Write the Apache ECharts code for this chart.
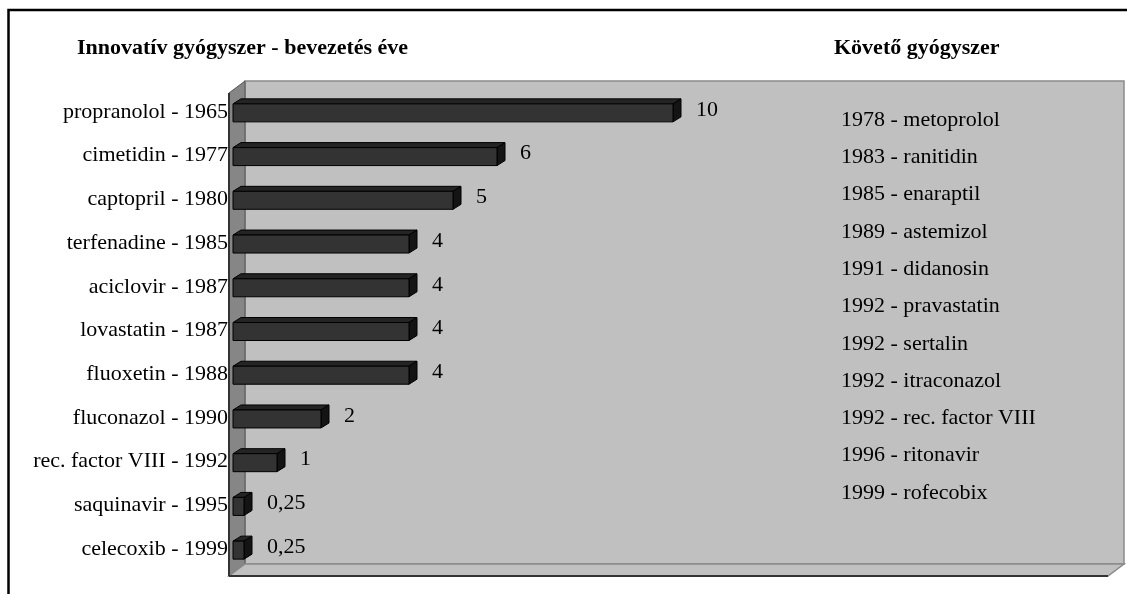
<!DOCTYPE html>
<html>
<head>
<meta charset="utf-8">
<script src="https://cdn.jsdelivr.net/npm/echarts@6/dist/echarts.min.js"></script>
<style>
  html, body { margin: 0; padding: 0; background: #fff; }
  #chart { width: 1127px; height: 594px; }
</style>
</head>
<body>
<div id="chart"></div>
<script>
// innovatív gyógyszerek (kategóriák) és az értékek
var drugs = [
  'propranolol - 1965', 'cimetidin - 1977', 'captopril - 1980', 'terfenadine - 1985',
  'aciclovir - 1987', 'lovastatin - 1987', 'fluoxetin - 1988', 'fluconazol - 1990',
  'rec. factor VIII - 1992', 'saquinavir - 1995', 'celecoxib - 1999'
];
var years = [10, 6, 5, 4, 4, 4, 4, 2, 1, 0.25, 0.25];
// követő gyógyszerek (jobb oldali szövegdoboz)
var followers = [
  '1978 - metoprolol', '1983 - ranitidin', '1985 - enaraptil', '1989 - astemizol',
  '1991 - didanosin', '1992 - pravastatin', '1992 - sertalin', '1992 - itraconazol',
  '1992 - rec. factor VIII', '1996 - ritonavir', '1999 - rofecobix'
];
var leftTitle = 'Innovatív gyógyszer - bevezetés éve';
var rightTitle = 'Követő gyógyszer';

var FONT = '"Liberation Serif", "Times New Roman", serif';
var gLeft = 233, gTop = 90, gWidth = 880, gHeight = 481;
var depthX = 16, depthY = -12; // fal mélysége

var chart = echarts.init(document.getElementById('chart'));

// fal / padló (háttér)
var fx0 = gLeft - 4, fx1 = gLeft + gWidth - 5, fy0 = gTop + 3, fy1 = gTop + gHeight + 5;
var bx0 = fx0 + depthX, bx1 = fx1 + depthX, by0 = fy0 + depthY, by1 = fy1 + depthY;

var graphics = [
  { type: 'rect', z: 0, shape: { x: 8.5, y: 10, width: 1300, height: 800 },
    style: { fill: 'none', stroke: '#000', lineWidth: 2.5 } },
  { type: 'polygon', z: 0, shape: { points: [[bx0, by0], [bx1, by0], [bx1, by1], [bx0, by1]] },
    style: { fill: '#c0c0c0', stroke: '#8a8a8a', lineWidth: 1.5 } },
  { type: 'polygon', z: 0, shape: { points: [[fx0, fy0], [bx0, by0], [bx0, by1], [fx0, fy1]] },
    style: { fill: '#868686', stroke: '#555', lineWidth: 1 } },
  { type: 'polygon', z: 0, shape: { points: [[fx0, fy1], [bx0, by1], [bx1, by1], [fx1, fy1]] },
    style: { fill: '#c0c0c0', stroke: '#8a8a8a', lineWidth: 1.5 } },
  { type: 'line', z: 1, shape: { x1: fx0, y1: fy1, x2: fx1, y2: fy1 },
    style: { stroke: '#333', lineWidth: 2 } },
  { type: 'line', z: 1, shape: { x1: fx0, y1: fy0, x2: fx0, y2: fy1 },
    style: { stroke: '#333', lineWidth: 2 } },
  { type: 'text', z: 3, left: 77, top: 37,
    style: { text: leftTitle, font: 'bold 22px ' + FONT, fill: '#000' } },
  { type: 'text', z: 3, left: 834, top: 37,
    style: { text: rightTitle, font: 'bold 22px ' + FONT, fill: '#000' } }
];
followers.forEach(function (t, i) {
  graphics.push({
    type: 'text', z: 3, x: 841, y: 120 + i * 37.3,
    style: { text: t, font: '22px ' + FONT, fill: '#000', textVerticalAlign: 'middle' }
  });
});

var option = {
  backgroundColor: '#fff',
  animation: false,
  grid: { left: gLeft, top: gTop, width: gWidth, height: gHeight },
  xAxis: {
    type: 'value', min: 0, max: 20,
    show: false
  },
  yAxis: {
    type: 'category',
    data: drugs,
    inverse: true,
    axisLine: { show: false },
    axisTick: { show: false },
    axisLabel: {
      margin: 5,
      color: '#000',
      fontSize: 22,
      fontFamily: FONT
    }
  },
  graphic: graphics,
  series: [
    {
      type: 'custom',
      z: 2,
      clip: false,
      data: years.map(function (v, i) { return [v, i]; }),
      renderItem: function (params, api) {
        var v = api.value(0), c = api.value(1);
        var p0 = api.coord([0, c]);
        var p1 = api.coord([v, c]);
        var h = 18, dx = 8, dy = -5;
        var x0 = p0[0], x1 = p1[0];
        var yT = p0[1] - h / 2 + 1, yB = yT + h;
        var label = String(v).replace('.', ',');
        return {
          type: 'group',
          children: [
            { type: 'polygon', shape: { points: [[x0, yT], [x0 + dx, yT + dy], [x1 + dx, yT + dy], [x1, yT]] },
              style: { fill: '#242424', stroke: '#000', lineWidth: 1 } },
            { type: 'polygon', shape: { points: [[x1, yT], [x1 + dx, yT + dy], [x1 + dx, yB + dy], [x1, yB]] },
              style: { fill: '#141414', stroke: '#000', lineWidth: 1 } },
            { type: 'rect', shape: { x: x0, y: yT, width: x1 - x0, height: h },
              style: { fill: '#333333', stroke: '#000', lineWidth: 1 } },
            { type: 'text', x: x1 + 23, y: p0[1] - 2,
              style: { text: label, font: '22px ' + FONT, fill: '#000',
                       textAlign: 'left', textVerticalAlign: 'middle' } }
          ]
        };
      }
    }
  ]
};
chart.setOption(option);
</script>
</body>
</html>
